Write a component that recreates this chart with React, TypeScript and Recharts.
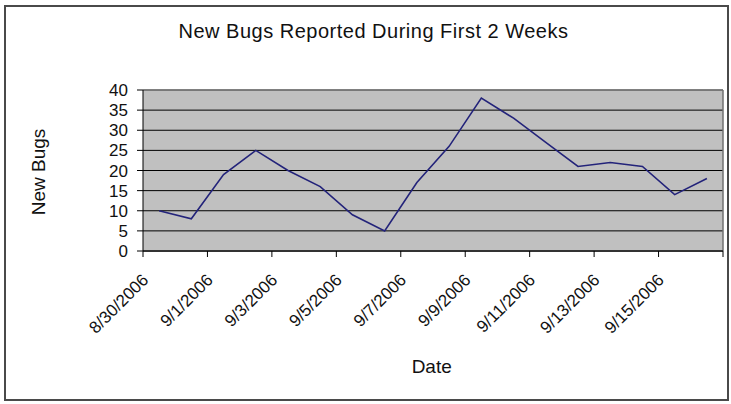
import React from 'react';
import { LineChart, Line, XAxis, YAxis, CartesianGrid, ReferenceLine } from 'recharts';

const dates = [
  '8/30/2006', '8/31/2006', '9/1/2006', '9/2/2006', '9/3/2006', '9/4/2006',
  '9/5/2006', '9/6/2006', '9/7/2006', '9/8/2006', '9/9/2006', '9/10/2006',
  '9/11/2006', '9/12/2006', '9/13/2006', '9/14/2006', '9/15/2006', '9/16/2006',
];
const newBugs = [10, 8, 19, 25, 20, 16, 9, 5, 17, 26, 38, 33, 27, 21, 22, 21, 14, 18];
const yTicks = [0, 5, 10, 15, 20, 25, 30, 35, 40];
const xTickSlots = [0, 2, 4, 6, 8, 10, 12, 14, 16, 18];

const data = dates.map((d, i) => ({ slot: i + 0.5, date: d, bugs: newBugs[i] }));

const FONT = '"Liberation Sans", Arial, sans-serif';

const XTick = (props: any) => {
  const { x, y, payload } = props;
  const label = dates[payload.value] && payload.value % 2 === 0 ? dates[payload.value] : '';
  const px = x + 6.5;
  const py = y + 22;
  return (
    <text
      x={px}
      y={py}
      textAnchor="end"
      fontSize={17}
      fontFamily={FONT}
      fill="#111"
      transform={`rotate(-45, ${px}, ${py})`}
    >
      {label}
    </text>
  );
};

export default function App() {
  return (
    <div style={{ position: 'absolute', left: 0, top: 0, width: 731, height: 404, background: '#fff' }}>
      <div
        style={{
          position: 'absolute',
          left: 4,
          top: 5,
          width: 725,
          height: 396,
          boxSizing: 'border-box',
          border: '2px solid #4a4a4a',
        }}
      />
      <div style={{ position: 'absolute', left: 0, top: 0 }}>
        <LineChart width={731} height={404} data={data} margin={{ top: 90, right: 8, bottom: 0, left: 0 }}>
          <CartesianGrid vertical={false} fill="#c0c0c0" stroke="#000" strokeOpacity={1} />
          <XAxis
            type="number"
            dataKey="slot"
            domain={[0, 18]}
            ticks={xTickSlots}
            interval={0}
            height={153}
            tick={<XTick />}
            tickSize={6}
            tickLine={{ stroke: '#000' }}
            axisLine={{ stroke: '#333', strokeWidth: 2 }}
          />
          <YAxis
            type="number"
            domain={[0, 40]}
            ticks={yTicks}
            interval={0}
            width={143}
            tickSize={6}
            tickMargin={9}
            tick={{ fontSize: 17, fontFamily: FONT, fill: '#111' }}
            tickLine={{ stroke: '#000' }}
            axisLine={{ stroke: '#000' }}
          />
          <ReferenceLine y={40} stroke="#808080" strokeWidth={1.5} />
          <ReferenceLine x={18} stroke="#707070" strokeWidth={1.5} />
          <Line
            type="linear"
            dataKey="bugs"
            stroke="#23237a"
            strokeWidth={1.6}
            dot={false}
            activeDot={false}
            isAnimationActive={false}
          />
        </LineChart>
      </div>
      <svg
        width={731}
        height={404}
        style={{ position: 'absolute', left: 0, top: 0, pointerEvents: 'none' }}
      >
        <text x={373.5} y={38} textAnchor="middle" fontSize={20} fontFamily={FONT} fill="#111" letterSpacing={0.5}>
          New Bugs Reported During First 2 Weeks
        </text>
        <text x={431.7} y={373} textAnchor="middle" fontSize={19} fontFamily={FONT} fill="#111">
          Date
        </text>
        <text
          x={44.5}
          y={172}
          textAnchor="middle"
          fontSize={19}
          fontFamily={FONT}
          fill="#111"
          transform="rotate(-90, 44.5, 172)"
        >
          New Bugs
        </text>
      </svg>
    </div>
  );
}
